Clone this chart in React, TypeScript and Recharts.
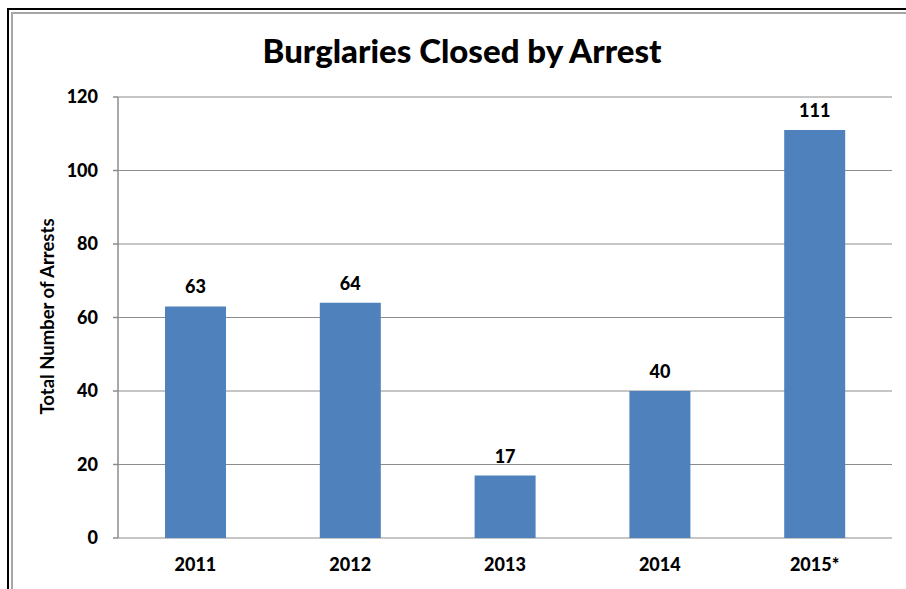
import { BarChart, Bar, XAxis, YAxis, CartesianGrid, LabelList } from "recharts";

const years = ["2011", "2012", "2013", "2014", "2015*"];
const arrests = [63, 64, 17, 40, 111];
const yTicks = [0, 20, 40, 60, 80, 100, 120];
const edgeTicks = [0, 1, 2, 3, 4, 5];

const data = years.map((year, i) => ({ year, arrests: arrests[i] }));

const FONT = "Lato, 'Open Sans', sans-serif";
const GRID = "#8c8c8c";
const BLUE = "#4f81bd";

const YLabel = (props: any) => {
  const vb = props.viewBox || {};
  const cx = 47;
  const cy = vb.y + vb.height / 2 - 1;
  return (
    <text
      x={cx}
      y={cy}
      transform={`rotate(-90 ${cx} ${cy})`}
      textAnchor="middle"
      dominantBaseline="central"
      fontFamily={FONT}
      fontWeight={700}
      fontSize={18.5}
      fill="#000"
    >
      Total Number of Arrests
    </text>
  );
};

export default function App() {
  return (
    <div
      style={{
        position: "absolute",
        left: 0,
        top: 0,
        width: 906,
        height: 589,
        overflow: "hidden",
        background: "#fff",
      }}
    >
      {/* frame: black outer line, gray inner line */}
      <div style={{ position: "absolute", left: 7, top: 8, width: 930, height: 620, border: "2px solid #000" }} />
      <div style={{ position: "absolute", left: 11, top: 12, width: 920, height: 610, border: "2px solid #a6a6a6" }} />

      <div
        style={{
          position: "absolute",
          left: 0,
          top: 28,
          width: 924,
          textAlign: "center",
          fontFamily: FONT,
          fontWeight: 900,
          fontSize: 33,
          lineHeight: "44px",
          color: "#000",
        }}
      >
        Burglaries Closed by Arrest
      </div>

      <div style={{ position: "absolute", left: 0, top: 0 }}>
        <BarChart width={906} height={589} data={data} margin={{ top: 97, right: 14, bottom: 21, left: 12 }}>
          <CartesianGrid vertical={false} stroke={GRID} strokeWidth={1} />
          <XAxis
            xAxisId="edges"
            type="number"
            domain={[0, 5]}
            ticks={edgeTicks}
            tick={false}
            tickSize={5}
            height={0}
            axisLine={{ stroke: GRID, strokeWidth: 1.5 }}
            tickLine={{ stroke: GRID, strokeWidth: 1.5 }}
          />
          <XAxis
            xAxisId="cat"
            dataKey="year"
            axisLine={false}
            tickLine={false}
            tickSize={0}
            tickMargin={20}
            height={30}
            tick={{ fill: "#000", fontFamily: FONT, fontWeight: 900, fontSize: 18 }}
          />
          <YAxis
            width={106}
            domain={[0, 120]}
            ticks={yTicks}
            interval={0}
            tickSize={5}
            tickMargin={15}
            axisLine={{ stroke: GRID, strokeWidth: 1.5 }}
            tickLine={{ stroke: GRID, strokeWidth: 1.5 }}
            tick={{ fill: "#000", fontFamily: FONT, fontWeight: 900, fontSize: 18 }}
            label={<YLabel />}
          />
          <Bar xAxisId="cat" dataKey="arrests" fill={BLUE} barSize={61} isAnimationActive={false}>
            <LabelList
              dataKey="arrests"
              position="top"
              offset={13}
              fill="#000"
              fontFamily={FONT}
              fontWeight={900}
              fontSize={18}
            />
          </Bar>
        </BarChart>
      </div>
    </div>
  );
}
